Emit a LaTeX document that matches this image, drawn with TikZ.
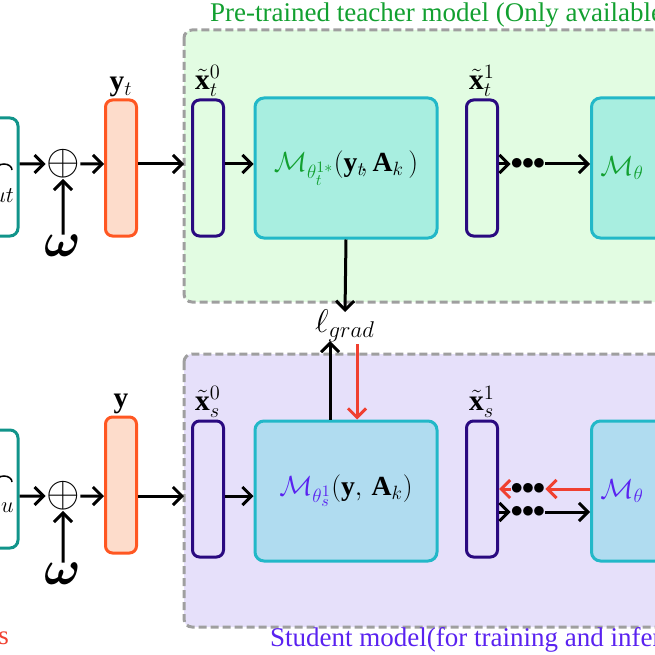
\documentclass[tikz,border=0pt]{standalone}
\usepackage{amsmath,amssymb}
\usepackage{fontspec}
\setmainfont{Liberation Serif}
\usetikzlibrary{arrows.meta,positioning}
\definecolor{regteach}{HTML}{E2FCE2}
\definecolor{regstud}{HTML}{E6E0FA}
\definecolor{teal1}{HTML}{11948A}
\definecolor{cyanb}{HTML}{22B8C8}
\definecolor{mteach}{HTML}{A8EEE0}
\definecolor{mstud}{HTML}{B0DCF0}
\definecolor{barfill}{HTML}{FDDCCB}
\definecolor{bardraw}{HTML}{FF5722}
\definecolor{xdraw}{HTML}{2A0A80}
\definecolor{gtxt}{HTML}{12A030}
\definecolor{vtxt}{HTML}{5A22F0}
\definecolor{redarr}{HTML}{F04030}
\tikzset{
  arr/.style={line width=3pt,-{Straight Barb[length=9pt,width=18pt,line width=3pt]}},
  region/.style={draw=gray!75,line width=3pt,dash pattern=on 8pt off 4pt,rounded corners=8pt},
  bar/.style={draw=bardraw,fill=barfill,line width=3pt,rounded corners=7pt,minimum width=31pt,minimum height=136pt,inner sep=0pt},
  xbox/.style={draw=xdraw,line width=3pt,rounded corners=7pt,minimum width=31pt,minimum height=136pt,inner sep=0pt},
  mbox/.style={draw=cyanb,line width=3pt,rounded corners=9pt,minimum width=182pt,minimum height=140pt,inner sep=0pt},
  mtxt/.style={font=\LARGE,scale=1.6,inner sep=0pt},
  inbox/.style={draw=teal1,line width=3pt,rounded corners=8pt,minimum width=60pt,minimum height=118pt,inner sep=0pt},
  lbl/.style={font=\LARGE,scale=1.7,inner sep=0.5pt},
  ttl/.style={font=\fontsize{27}{30}\selectfont,inner sep=0pt},
  dots/.style={font=\fontsize{26}{30}\selectfont,inner sep=0pt},
  oplus/.style={font=\LARGE,scale=2.5,inner sep=0pt},
  omg/.style={font=\LARGE,scale=2.8,inner sep=0pt},
}
\newcommand{\bdots}{$\bullet\mkern-5mu\bullet\mkern-5mu\bullet$}
\begin{document}
\begin{tikzpicture}[x=1pt,y=-1pt]
  \useasboundingbox (0,0) rectangle (655,655);
  \clip (0,0) rectangle (655,655);
  % regions
  \draw[region,fill=regteach] (184,30) rectangle (720,302);
  \draw[region,fill=regstud] (184,354) rectangle (720,627);
  \node[ttl,anchor=west,text=gtxt] (tteach) at (210,15) {Pre-trained teacher model (Only available for training)};
  \node[ttl,anchor=west,text=vtxt] (tstud) at (270,640) {Student model(for training and inference)};
  \node[ttl,anchor=east,text=redarr] (tleft) at (9,636) {Ss};

  % teacher row
  \node[inbox] (int) at (-12,177) {};
  \draw[line width=1.5pt] (-4,170) arc (180:0:8pt and 6pt);
  \node[font=\LARGE,scale=1.3,anchor=east,inner sep=0pt] at (14,196) {$ut$};
  \node[oplus] (pt) at (63,164) {$\oplus$};
  \node[omg] (wt) at (63,246) {$\boldsymbol{\omega}$};
  \node[bar] (yt) at (121,168) {};
  \node[lbl,above=0pt of yt] {$\mathbf{y}_t$};
  \node[xbox] (x0t) at (208,168) {};
  \node[lbl,above=1pt of x0t] {$\tilde{\mathbf{x}}_t^0$};
  \node[mbox,fill=mteach] (mt) at (346,168) {};
  \node[mtxt] (mtl) at (mt.center) {$\textcolor{gtxt}{\mathcal{M}_{\theta_t^{1*}}}(\mathbf{y}_t\!,\mathbf{A}_k\,)$};
  \node[xbox] (x1t) at (482,168) {};
  \node[lbl,above=1pt of x1t] {$\tilde{\mathbf{x}}_t^1$};
  \node[dots] (dt) at (528,164) {\bdots};
  \node[mbox,fill=mteach,anchor=west] (mt2) at (590,168) {};
  \node[mtxt,anchor=west] (mt2l) at (600,168) {$\textcolor{gtxt}{\mathcal{M}_{\theta}}$};

  % student row
  \node[inbox] (ins) at (-12,489) {};
  \draw[line width=1.5pt] (-4,482) arc (180:0:8pt and 6pt);
  \node[font=\LARGE,scale=1.3,anchor=east,inner sep=0pt] at (14,508) {$u$};
  \node[oplus] (ps) at (63,496) {$\oplus$};
  \node[omg] (ws) at (63,574) {$\boldsymbol{\omega}$};
  \node[bar] (ys) at (121,485) {};
  \node[lbl,above=0pt of ys] {$\mathbf{y}$};
  \node[xbox] (x0s) at (208,489) {};
  \node[lbl,above=1pt of x0s] {$\tilde{\mathbf{x}}_s^0$};
  \node[mbox,fill=mstud] (ms) at (346,491) {};
  \node[mtxt] (msl) at (ms.center) {$\textcolor{vtxt}{\mathcal{M}_{\theta_s^{1}}}(\mathbf{y},\,\mathbf{A}_k)$};
  \node[xbox] (x1s) at (482,489) {};
  \node[lbl,above=1pt of x1s] {$\tilde{\mathbf{x}}_s^1$};
  \node[dots] (dsr) at (528,489) {\bdots};
  \node[dots] (dsb) at (528,512) {\bdots};
  \node[mbox,fill=mstud,anchor=west] (ms2) at (590,491) {};
  \node[mtxt,anchor=west] (ms2l) at (600,491) {$\textcolor{vtxt}{\mathcal{M}_{\theta}}$};

  \node[font=\LARGE,scale=1.9,inner sep=0pt] (lg) at (345,326) {$\ell_{grad}$};

  % connectors
  \draw[arr] (int.east|-pt) -- (pt);
  \draw[arr] (wt) -- (pt);
  \draw[arr] (pt) -- (yt.west|-pt);
  \draw[arr] (yt.east|-pt) -- (184,164);
  \draw[arr] (x0t.east|-pt) -- (mt.west|-pt);
  \draw[arr] (x1t.east|-dt) -- (dt.west);
  \draw[arr] (dt.east) -- (mt2.west|-dt);
  \draw[arr] (mt.south) -- (345,312);

  \draw[arr] (ins.east|-ps) -- (ps);
  \draw[arr] (ws) -- (ps);
  \draw[arr] (ps) -- (ys.west|-ps);
  \draw[arr] (ys.east|-ps) -- (184,496);
  \draw[arr] (x0s.east|-ps) -- (ms.west|-ps);
  \draw[arr,draw=redarr] (ms2.west|-dsr) -- (dsr.east);
  \draw[arr,draw=redarr] (dsr.west) -- (x1s.east|-dsr);
  \draw[arr] (x1s.east|-dsb) -- (dsb.west);
  \draw[arr] (dsb.east) -- (ms2.west|-dsb);
  \draw[arr] (ms.north-|330,0) -- (330,341);
  \draw[arr,draw=redarr] (357,344) -- (ms.north-|357,0);
\end{tikzpicture}
\end{document}
